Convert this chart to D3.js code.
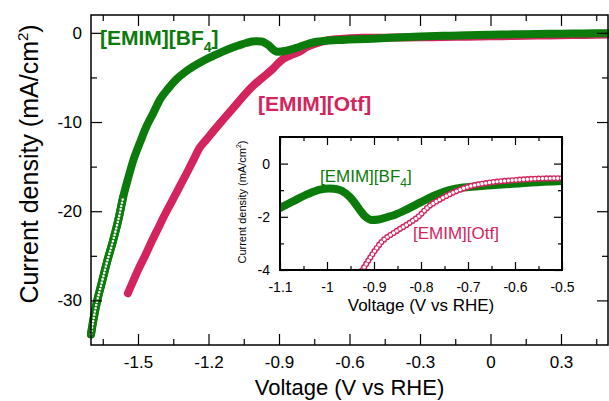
<!DOCTYPE html>
<html lang="en">
<head>
<meta charset="UTF-8">
<title>EMIM electrolytes LSV</title>
<style>
  body { margin: 0; background: #fff; }
  svg { display: block; font-family: "Liberation Sans", Arial, sans-serif; }
</style>
</head>
<body>
<svg id="chart" width="609" height="401"></svg>
<script src="https://cdn.jsdelivr.net/npm/d3@7"></script>
<script>
// [EMIM][BF4] curve (V vs RHE, mA/cm2)
const bf4V = [-1.700,-1.690,-1.676,-1.655,-1.633,-1.605,-1.584,-1.563,-1.542,-1.520,-1.490,-1.464,-1.435,-1.407,-1.370,-1.336,-1.300,-1.266,-1.220,-1.181,-1.140,-1.100,-1.068,-1.040,-1.015,-0.995,-0.975,-0.960,-0.945,-0.930,-0.918,-0.905,-0.890,-0.870,-0.855,-0.827,-0.800,-0.770,-0.740,-0.710,-0.685,-0.628,-0.565,-0.500,-0.400,-0.300,-0.200,-0.100,0.000,0.100,0.200,0.300,0.400,0.500];
const bf4J = [-33.8,-32.2,-30.3,-28.1,-25.8,-23.2,-21.0,-18.4,-16.3,-14.3,-12.2,-10.5,-9.0,-7.5,-6.2,-5.2,-4.4,-3.8,-3.1,-2.6,-2.1,-1.67,-1.38,-1.14,-0.98,-0.94,-0.98,-1.12,-1.38,-1.75,-2.0,-2.12,-2.1,-2.0,-1.92,-1.69,-1.45,-1.19,-1.0,-0.9,-0.86,-0.79,-0.71,-0.65,-0.52,-0.42,-0.34,-0.27,-0.22,-0.17,-0.13,-0.10,-0.07,-0.05];

// [EMIM][Otf] curve
const otfV = [-1.543,-1.520,-1.500,-1.470,-1.442,-1.414,-1.386,-1.358,-1.330,-1.294,-1.265,-1.238,-1.210,-1.182,-1.140,-1.097,-1.055,-1.013,-0.960,-0.923,-0.905,-0.884,-0.855,-0.827,-0.806,-0.784,-0.756,-0.728,-0.699,-0.657,-0.600,-0.543,-0.500,-0.400,-0.300,-0.200,-0.100,0.000,0.100,0.200,0.300,0.400,0.500];
const otfJ = [-29.2,-27.8,-26.6,-25.0,-23.4,-21.9,-20.4,-19.0,-17.6,-15.8,-14.3,-12.9,-12.0,-11.1,-9.8,-8.5,-7.2,-6.0,-4.8,-3.95,-3.45,-2.95,-2.57,-2.26,-2.0,-1.62,-1.31,-1.06,-0.87,-0.72,-0.62,-0.56,-0.55,-0.53,-0.50,-0.47,-0.43,-0.39,-0.35,-0.31,-0.27,-0.23,-0.20];

// ticks
const mainXTicks = [-1.5, -1.2, -0.9, -0.6, -0.3, 0, 0.3];
const mainXMinor = [-1.65, -1.35, -1.05, -0.75, -0.45, -0.15, 0.15, 0.45];
const mainYTicks = [0, -10, -20, -30];
const mainYMinor = [-5, -15, -25];
const insetXTicks = [-1.1, -1, -0.9, -0.8, -0.7, -0.6, -0.5];
const insetXMinor = [-1.05, -0.95, -0.85, -0.75, -0.65, -0.55];
const insetYTicks = [0, -2, -4];
const insetYMinor = [-1, -3];

const green = "#0b7b0b", pink = "#d4245e";

const bf4 = bf4V.map((v, i) => [v, bf4J[i]]);
const otf = otfV.map((v, i) => [v, otfJ[i]]);

const svg = d3.select("#chart");

const x = d3.scaleLinear().domain([-1.7, 0.5]).range([91, 608]);
const y = d3.scaleLinear().domain([-35, 2]).range([345, 15]);
const xi = d3.scaleLinear().domain([-1.1, -0.5]).range([280, 562]);
const yi = d3.scaleLinear().domain([-4, 1]).range([270, 137]);

function drawAxes(g, sx, sy, o) {
  const [x0, x1] = sx.range(), [y0, y1] = sy.range();
  const fmt = d => String(d);
  const add = (axis, tx, ty) => g.append("g")
      .attr("transform", `translate(${tx},${ty})`)
      .call(axis)
      .call(a => a.select(".domain").remove())
      .call(a => a.selectAll("line").attr("stroke-width", o.tickW))
      .call(a => a.selectAll("text").attr("font-size", o.font).attr("fill", "#000"));
  add(d3.axisBottom(sx).tickValues(o.xMajor).tickSize(-o.major).tickPadding(o.xPad).tickFormat(fmt), 0, y0);
  add(d3.axisBottom(sx).tickValues(o.xMinor).tickSize(-o.minor).tickFormat(""), 0, y0);
  add(d3.axisTop(sx).tickValues(o.xMajor).tickSize(-o.major).tickFormat(""), 0, y1);
  add(d3.axisTop(sx).tickValues(o.xMinor).tickSize(-o.minor).tickFormat(""), 0, y1);
  add(d3.axisLeft(sy).tickValues(o.yMajor).tickSize(-o.major).tickPadding(o.yPad).tickFormat(fmt), x0, 0);
  add(d3.axisLeft(sy).tickValues(o.yMinor).tickSize(-o.minor).tickFormat(""), x0, 0);
  add(d3.axisRight(sy).tickValues(o.yMajor).tickSize(-o.major).tickFormat(""), x1, 0);
  add(d3.axisRight(sy).tickValues(o.yMinor).tickSize(-o.minor).tickFormat(""), x1, 0);
  g.append("rect")
    .attr("x", x0).attr("y", y1)
    .attr("width", x1 - x0).attr("height", y0 - y1)
    .attr("fill", "none").attr("stroke", "#000").attr("stroke-width", o.frameW);
}

// solid band of dense markers
function band(g, line, data, color, w) {
  g.append("path").datum(data)
    .attr("d", line).attr("fill", "none")
    .attr("stroke", color).attr("stroke-width", w)
    .attr("stroke-linejoin", "round").attr("stroke-linecap", "round");
}

// chain of open circles along the curve
function rings(g, line, data, color, outer, inner, gap, under) {
  if (under) band(g, line, data, color, outer);
  [[color, outer], ["#fff", inner]].forEach(([c, w], k) => {
    if (under && k === 0) return;
    g.append("path").datum(data)
      .attr("d", line).attr("fill", "none")
      .attr("stroke", c).attr("stroke-width", w)
      .attr("stroke-linecap", "round")
      .attr("stroke-dasharray", `0 ${gap}`);
  });
}

// ---- main plot ----
const line = d3.line().x(d => x(d[0])).y(d => y(d[1])).curve(d3.curveMonotoneX);
const main = svg.append("g");

band(main, line, otf, pink, 8);
band(main, line, bf4, green, 8);
rings(main, line, bf4.filter(d => d[0] <= -1.563), green, 8, 2.6, 3.3, true);

drawAxes(main, x, y, {
  xMajor: mainXTicks, xMinor: mainXMinor, yMajor: mainYTicks, yMinor: mainYMinor,
  major: 11, minor: 6, xPad: 11, yPad: 9, font: 17, tickW: 1.2, frameW: 1.5
});

svg.append("text")
  .attr("x", (x.range()[0] + x.range()[1]) / 2).attr("y", 395)
  .attr("text-anchor", "middle").attr("font-size", 22)
  .text("Voltage (V vs RHE)");

const yt = svg.append("text")
  .attr("transform", "translate(38,164) rotate(-90)")
  .attr("text-anchor", "middle").attr("font-size", 25);
yt.append("tspan").text("Current density (mA/cm");
yt.append("tspan").attr("font-size", 15).attr("dy", -10).text("2");
yt.append("tspan").attr("dy", 10).text(")");

const lb1 = svg.append("text").attr("x", 100).attr("y", 45)
  .attr("font-size", 21).attr("font-weight", "bold").attr("fill", green);
lb1.append("tspan").text("[EMIM][BF");
lb1.append("tspan").attr("font-size", 14).attr("dy", 7).text("4");
lb1.append("tspan").attr("dy", -7).text("]");

svg.append("text").attr("x", 258).attr("y", 111)
  .attr("font-size", 21).attr("font-weight", "bold").attr("fill", pink)
  .text("[EMIM][Otf]");

// ---- inset ----
const inset = svg.append("g");
inset.append("rect")
  .attr("x", 280).attr("y", 137).attr("width", 282).attr("height", 133)
  .attr("fill", "#fff");
svg.append("clipPath").attr("id", "insetClip")
  .append("rect").attr("x", 280).attr("y", 137).attr("width", 282).attr("height", 133);

const linei = d3.line().x(d => xi(d[0])).y(d => yi(d[1])).curve(d3.curveMonotoneX);
const curves = inset.append("g").attr("clip-path", "url(#insetClip)");
band(curves, linei, bf4.filter(d => d[0] >= -1.15 && d[0] <= -0.45), green, 8);
rings(curves, linei, otf.filter(d => d[0] >= -1.0 && d[0] <= -0.45), pink, 6.2, 3.4, 3.8, false);

drawAxes(inset, xi, yi, {
  xMajor: insetXTicks, xMinor: insetXMinor, yMajor: insetYTicks, yMinor: insetYMinor,
  major: 8, minor: 4, xPad: 12, yPad: 10, font: 14, tickW: 1.2, frameW: 2
});

svg.append("text")
  .attr("x", 421).attr("y", 311)
  .attr("text-anchor", "middle").attr("font-size", 17)
  .text("Voltage (V vs RHE)");

const yti = svg.append("text")
  .attr("transform", "translate(246,202) rotate(-90)")
  .attr("text-anchor", "middle").attr("font-size", 11);
yti.append("tspan").text("Current density (mA/cm");
yti.append("tspan").attr("font-size", 7).attr("dy", -5).text("2");
yti.append("tspan").attr("dy", 5).text(")");

const lb2 = svg.append("text").attr("x", 320).attr("y", 182)
  .attr("font-size", 17).attr("fill", green);
lb2.append("tspan").text("[EMIM][BF");
lb2.append("tspan").attr("font-size", 12).attr("dy", 5).text("4");
lb2.append("tspan").attr("dy", -5).text("]");

svg.append("text").attr("x", 413).attr("y", 239)
  .attr("font-size", 17).attr("fill", pink)
  .text("[EMIM][Otf]");
</script>
</body>
</html>
